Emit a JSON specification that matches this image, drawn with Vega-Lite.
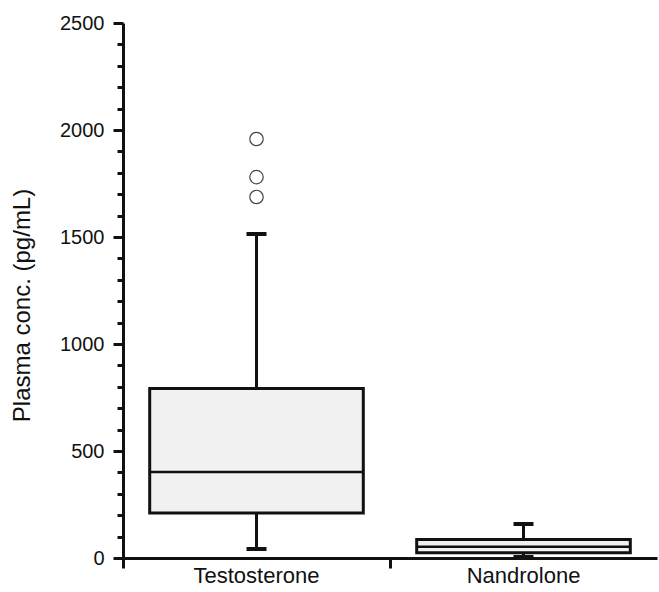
{
  "$schema": "https://vega.github.io/schema/vega-lite/v6.json",
  "width": 534,
  "height": 535,
  "autosize": {"type": "none"},
  "padding": {"left": 123, "top": 23, "right": 2, "bottom": 34},
  "background": "white",
  "config": {
    "view": {"stroke": null},
    "font": "Liberation Sans",
    "axis": {"labelFont": "Liberation Sans", "titleFont": "Liberation Sans", "labelColor": "#111", "titleColor": "#111", "domainColor": "#111", "tickColor": "#111", "grid": false}
  },
  "datasets": {
    "box": [
      {"group": "Testosterone", "lower": 42, "q1": 210, "median": 402, "q3": 792, "upper": 1514},
      {"group": "Nandrolone", "lower": 5, "q1": 25, "median": 53, "q3": 87, "upper": 159}
    ],
    "outliers": [
      {"group": "Testosterone", "value": 1958},
      {"group": "Testosterone", "value": 1780},
      {"group": "Testosterone", "value": 1687}
    ]
  },
  "data": {"name": "box"},
  "resolve": {"axis": {"y": "independent"}},
  "encoding": {
    "x": {
      "field": "group", "type": "nominal", "sort": ["Testosterone", "Nandrolone"],
      "scale": {"paddingInner": 0, "paddingOuter": 0},
      "axis": {"title": null, "labelAngle": 0, "labelFontSize": 22, "labelPadding": 14, "tickSize": 10, "tickWidth": 3, "domainWidth": 3, "bandPosition": 0, "labelBaseline": "alphabetic"}
    }
  },
  "layer": [
    {
      "mark": {"type": "rule", "stroke": "#111", "strokeWidth": 3},
      "encoding": {
        "y": {"field": "q3", "type": "quantitative", "scale": {"domain": [0, 2500], "nice": false},
          "axis": {"title": "Plasma conc. (pg/mL)", "titleFontSize": 24, "titleFontWeight": "normal", "titlePadding": 25, "titleY": 282,
            "values": [0,100,200,300,400,500,600,700,800,900,1000,1100,1200,1300,1400,1500,1600,1700,1800,1900,2000,2100,2200,2300,2400,2500],
            "labelExpr": "datum.value % 500 === 0 ? datum.label : ''",
            "labelOverlap": false,
            "format": "d",
            "labelFontSize": 20, "labelPadding": 9,
            "tickSize": {"condition": {"test": "datum.value % 500 === 0", "value": 10}, "value": 6},
            "tickWidth": 3, "domainWidth": 3}},
        "y2": {"field": "upper"}
      }
    },
    {
      "mark": {"type": "rule", "stroke": "#111", "strokeWidth": 3},
      "encoding": {
        "y": {"field": "lower", "type": "quantitative", "axis": null},
        "y2": {"field": "q1"}
      }
    },
    {
      "mark": {"type": "rect", "fill": "#f1f1f1", "stroke": "#111", "strokeWidth": 3, "width": {"band": 0.8}},
      "encoding": {
        "y": {"field": "q1", "type": "quantitative", "axis": null},
        "y2": {"field": "q3"}
      }
    },
    {
      "mark": {"type": "tick", "color": "#111", "opacity": 1, "size": 213, "thickness": 2.5},
      "encoding": {"y": {"field": "median", "type": "quantitative", "axis": null}}
    },
    {
      "mark": {"type": "tick", "color": "#111", "opacity": 1, "size": 20, "thickness": 4},
      "encoding": {"y": {"field": "upper", "type": "quantitative", "axis": null}}
    },
    {
      "mark": {"type": "tick", "color": "#111", "opacity": 1, "size": 20, "thickness": 4},
      "encoding": {"y": {"field": "lower", "type": "quantitative", "axis": null}}
    },
    {
      "data": {"name": "outliers"},
      "mark": {"type": "point", "shape": "circle", "filled": false, "opacity": 1, "size": 180, "stroke": "#444", "strokeWidth": 1.2},
      "encoding": {"y": {"field": "value", "type": "quantitative", "axis": null}}
    }
  ]
}
